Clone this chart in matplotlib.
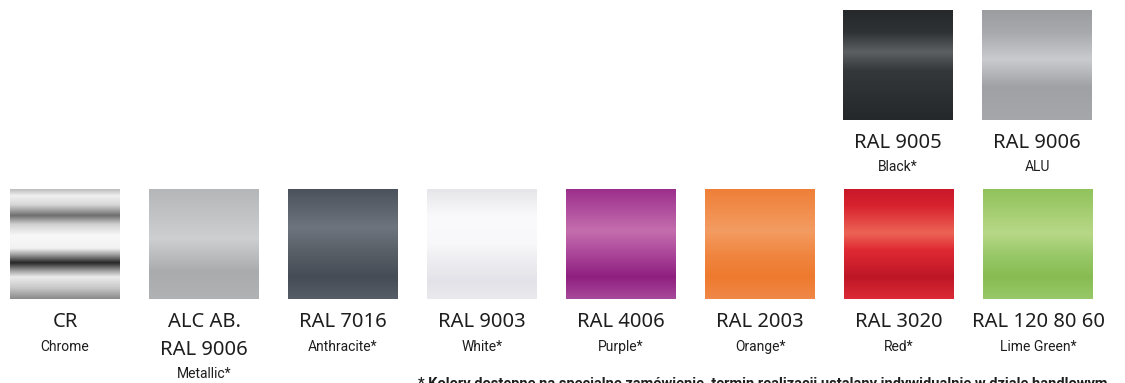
import matplotlib
matplotlib.use("Agg")
import matplotlib.pyplot as plt
import numpy as np
from matplotlib.colors import LinearSegmentedColormap

# bottom row swatches
codes = ["CR", "ALC AB.\nRAL 9006", "RAL 7016", "RAL 9003", "RAL 4006",
         "RAL 2003", "RAL 3020", "RAL 120 80 60"]
names = ["Chrome", "Metallic*", "Anthracite*", "White*", "Purple*",
         "Orange*", "Red*", "Lime Green*"]
# vertical gradient stops (top -> bottom)
stops = [
    [(0, "#bdbdbd"), (0.06, "#f0f0f0"), (0.14, "#d8d8d8"), (0.24, "#6e6e6e"),
     (0.32, "#d0d0d0"), (0.42, "#f8f8f8"), (0.54, "#f2f2f2"), (0.6, "#9a9a9a"),
     (0.67, "#262626"), (0.74, "#9a9a9a"), (0.8, "#ececec"), (0.9, "#c8c8c8"),
     (1, "#8a8a8a")],
    [(0, "#b4b6b8"), (0.45, "#cdcfd1"), (0.75, "#a9abad"), (1, "#b0b2b4")],
    [(0, "#4b525b"), (0.35, "#6e747d"), (0.55, "#5b6169"), (0.8, "#454c55"), (1, "#565d66")],
    [(0, "#e6e6ea"), (0.25, "#fafafc"), (0.5, "#f8f8fa"), (0.6, "#f0f0f4"),
     (0.85, "#e2e2e8"), (1, "#eaeaee")],
    [(0, "#9c2f8c"), (0.38, "#c46eae"), (0.55, "#b04e9e"), (0.8, "#8f1f7f"), (1, "#a84a9a")],
    [(0, "#ef7f38"), (0.38, "#f39c62"), (0.6, "#f08540"), (0.8, "#ee7a2e"), (1, "#f08848")],
    [(0, "#c8182a"), (0.15, "#d8222e"), (0.4, "#ec6455"), (0.55, "#e02a34"),
     (0.8, "#be1626"), (1, "#dc2a36")],
    [(0, "#90c25a"), (0.4, "#b8d888"), (0.6, "#98c868"), (0.8, "#88bc52"), (1, "#98c868")],
]

# top row swatches (above Red / Lime)
top_codes = ["RAL 9005", "RAL 9006"]
top_names = ["Black*", "ALU"]
top_stops = [
    [(0, "#25292c"), (0.2, "#2e3235"), (0.38, "#5c6062"), (0.55, "#34383b"), (1, "#24282b")],
    [(0, "#9c9da0"), (0.2, "#a8a9ac"), (0.45, "#cacbce"), (0.7, "#a0a1a4"), (1, "#a6a7aa")],
]
top_cols = [6, 7]

footnote = ("* Kolory dostępne na specjalne zamówienie, termin realizacji "
            "ustalany indywidualnie w dziale handlowym")

code_font = ["Noto Sans", "DejaVu Sans"]
small_font = ["Roboto", "DejaVu Sans"]

fig = plt.figure(figsize=(11.25, 3.83), dpi=100)
ax = fig.add_axes([0, 0, 1, 1])
ax.set_xlim(0, 1125)
ax.set_ylim(383, 0)
ax.axis("off")

size = 110
step = 139
grad = np.linspace(0, 1, 256).reshape(-1, 1)


def swatch(x0, y0, st):
    cmap = LinearSegmentedColormap.from_list("s", st)
    ax.imshow(grad, cmap=cmap, aspect="auto", interpolation="bilinear",
              extent=(x0, x0 + size, y0 + size, y0))


for i, (c, n, st) in enumerate(zip(codes, names, stops)):
    x0 = 10 + i * step
    swatch(x0, 189, st)
    cx = x0 + size / 2
    lines = c.split("\n")
    for k, ln in enumerate(lines):
        ax.text(cx, 322 + k * 28, ln, ha="center", va="center", fontsize=14.5,
                family=code_font, color="#1e1e1e")
    ax.text(cx, 347 + (len(lines) - 1) * 27, n, ha="center", va="center",
            fontsize=10, family=small_font, color="#1e1e1e")

for col, c, n, st in zip(top_cols, top_codes, top_names, top_stops):
    x0 = 9 + col * step
    swatch(x0, 10, st)
    cx = x0 + size / 2
    ax.text(cx, 143, c, ha="center", va="center", fontsize=14.5,
            family=code_font, color="#1e1e1e")
    ax.text(cx, 167, n, ha="center", va="center", fontsize=10,
            family=small_font, color="#1e1e1e")

ax.text(418, 377, footnote, ha="left", va="top", fontsize=10.5, fontweight="bold",
        family=small_font, color="#1e1e1e")

fig.savefig("out.png", dpi=100)
